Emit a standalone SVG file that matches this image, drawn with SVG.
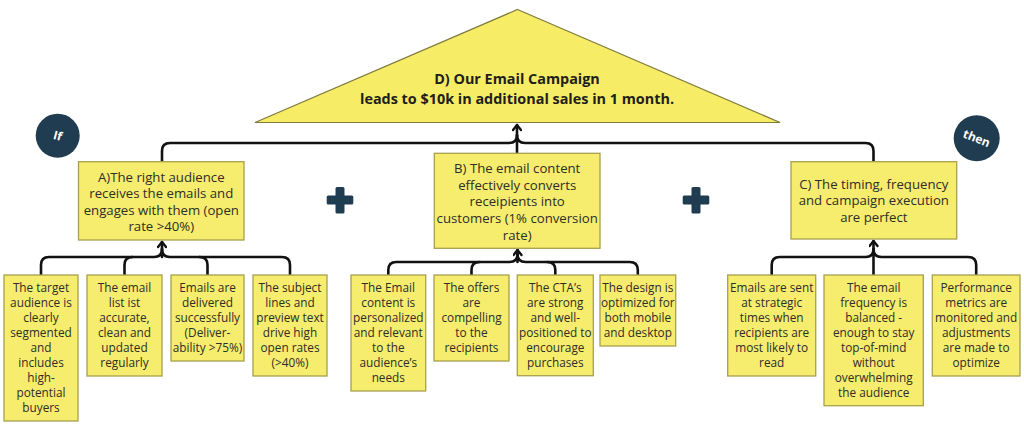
<svg xmlns="http://www.w3.org/2000/svg" width="1024" height="434" viewBox="0 0 1024 434">
<defs>
<style>
.box{fill:#f6ec6e;stroke:#a7a04e;stroke-width:1.3}
.t{font-family:"Open Sans","Liberation Sans",sans-serif;font-size:13.2px;fill:#2e2e28;text-anchor:middle}
.s{font-family:"Open Sans","Liberation Sans",sans-serif;font-size:11.8px;fill:#2e2e28;text-anchor:middle}
.h{font-family:"Open Sans","Liberation Sans",sans-serif;font-size:14.4px;font-weight:700;fill:#1e1e1a;text-anchor:middle}
.c{fill:none;stroke:#111;stroke-width:2.6;stroke-linecap:round;stroke-linejoin:round}
.navy{fill:#1f3c50}
.w{font-family:"Open Sans","Liberation Sans",sans-serif;font-size:12px;font-weight:700;fill:#fff;text-anchor:middle}
</style>
<marker id="ah" viewBox="0 0 10 10" refX="7.5" refY="5" markerWidth="10" markerHeight="10" markerUnits="userSpaceOnUse" orient="auto">
<path d="M2.5,1 L7.5,5 L2.5,9" fill="none" stroke="#111" stroke-width="2.4" stroke-linecap="round" stroke-linejoin="round"/>
</marker>
</defs>
<rect width="1024" height="434" fill="#fff"/>

<g id="connectors">
<path class="c" d="M162,162 V151 Q162,143 170,143 H509 Q517,143 517,135"/>
<path class="c" d="M873.5,162 V151 Q873.5,143 865.5,143 H525 Q517,143 517,135"/>
<path class="c" d="M517,153 V125" marker-end="url(#ah)"/>

<path class="c" d="M41,275 V265 Q41,257 49,257 H154 Q162,257 162,249"/>
<path class="c" d="M290,275 V265 Q290,257 282,257 H170 Q162,257 162,249"/>
<path class="c" d="M124.5,275 V265 Q124.5,257 132.5,257"/>
<path class="c" d="M207.5,275 V265 Q207.5,257 199.5,257"/>
<path class="c" d="M162,257 V242" marker-end="url(#ah)"/>

<path class="c" d="M388.3,275 V270 Q388.3,262 396.3,262 H509.5 Q517.5,262 517.5,254"/>
<path class="c" d="M637.8,275 V270 Q637.8,262 629.8,262 H525.5 Q517.5,262 517.5,254"/>
<path class="c" d="M471.5,275 V270 Q471.5,262 479.5,262"/>
<path class="c" d="M555.3,275 V270 Q555.3,262 547.3,262"/>
<path class="c" d="M517.5,262 V250" marker-end="url(#ah)"/>

<path class="c" d="M771.7,275 V265 Q771.7,257 779.7,257 H865.5 Q873.5,257 873.5,249"/>
<path class="c" d="M976.2,275 V265 Q976.2,257 968.2,257 H881.5 Q873.5,257 873.5,249"/>
<path class="c" d="M873.5,275 V241" marker-end="url(#ah)"/>
</g>

<g id="D">
<polygon points="517.5,9.5 780,122.5 255,122.5" fill="#f6ec66" stroke="#7f7a3e" stroke-width="1.2"/>
<text class="h" x="517" y="84">D) Our Email Campaign</text>
<text class="h" x="517" y="104">leads to $10k in additional sales in 1 month.</text>
</g>

<g id="if">
<circle class="navy" cx="57.7" cy="135.7" r="22"/>
<text class="w" x="57.7" y="140" transform="rotate(15 57.7 135.7)">If</text>
</g>
<g id="then">
<circle class="navy" cx="976.7" cy="138.3" r="23"/>
<text class="w" x="976.7" y="142.5" transform="rotate(22 976.7 138.3)">then</text>
</g>

<g id="plus1"><rect class="navy" x="326.7" y="195.5" width="26.6" height="9" rx="1.5"/><rect class="navy" x="335.5" y="187" width="9" height="26.6" rx="1.5"/></g>
<g id="plus2"><rect class="navy" x="682.7" y="195.5" width="26.6" height="9" rx="1.5"/><rect class="navy" x="691.5" y="187" width="9" height="26.6" rx="1.5"/></g>

<g id="A">
<rect class="box" x="78.5" y="161.7" width="165.5" height="78.3"/>
<text class="t" x="161.3" y="181.7">A)The right audience</text>
<text class="t" x="161.3" y="198.2">receives the emails and</text>
<text class="t" x="161.3" y="214.7">engages with them (open</text>
<text class="t" x="161.3" y="231.2">rate &gt;40%)</text>
</g>

<g id="B">
<rect class="box" x="434.3" y="153.3" width="165.7" height="95"/>
<text class="t" x="517.2" y="173">B) The email content</text>
<text class="t" x="517.2" y="189.7">effectively converts</text>
<text class="t" x="517.2" y="206.4">receipients into</text>
<text class="t" x="517.2" y="223">customers (1% conversion</text>
<text class="t" x="517.2" y="239.7">rate)</text>
</g>

<g id="C">
<rect class="box" x="791" y="161.7" width="165.7" height="77.3"/>
<text class="t" x="873.8" y="188.7">C) The timing, frequency</text>
<text class="t" x="873.8" y="205.4">and campaign execution</text>
<text class="t" x="873.8" y="222">are perfect</text>
</g>

<g id="A1">
<rect class="box" x="4" y="275" width="74" height="146"/>
<text class="s"><tspan x="41" y="292">The target</tspan><tspan x="41" y="307">audience is</tspan><tspan x="41" y="322">clearly</tspan><tspan x="41" y="337">segmented</tspan><tspan x="41" y="352">and</tspan><tspan x="41" y="367">includes</tspan><tspan x="41" y="382">high-</tspan><tspan x="41" y="397">potential</tspan><tspan x="41" y="412">buyers</tspan></text>
</g>
<g id="A2">
<rect class="box" x="87" y="275" width="75" height="101"/>
<text class="s"><tspan x="124.5" y="292">The email</tspan><tspan x="124.5" y="307">list ist</tspan><tspan x="124.5" y="322">accurate,</tspan><tspan x="124.5" y="337">clean and</tspan><tspan x="124.5" y="352">updated</tspan><tspan x="124.5" y="367">regularly</tspan></text>
</g>
<g id="A3">
<rect class="box" x="171" y="275" width="73" height="86"/>
<text class="s"><tspan x="207.5" y="292">Emails are</tspan><tspan x="207.5" y="307">delivered</tspan><tspan x="207.5" y="322">successfully</tspan><tspan x="207.5" y="337">(Deliver-</tspan><tspan x="207.5" y="352">ability &gt;75%)</tspan></text>
</g>
<g id="A4">
<rect class="box" x="253" y="275" width="74" height="101"/>
<text class="s"><tspan x="290" y="292">The subject</tspan><tspan x="290" y="307">lines and</tspan><tspan x="290" y="322">preview text</tspan><tspan x="290" y="337">drive high</tspan><tspan x="290" y="352">open rates</tspan><tspan x="290" y="367">(&gt;40%)</tspan></text>
</g>

<g id="B1">
<rect class="box" x="351" y="275" width="74.7" height="116"/>
<text class="s"><tspan x="388.3" y="292">The Email</tspan><tspan x="388.3" y="307">content is</tspan><tspan x="388.3" y="322">personalized</tspan><tspan x="388.3" y="337">and relevant</tspan><tspan x="388.3" y="352">to the</tspan><tspan x="388.3" y="367">audience’s</tspan><tspan x="388.3" y="382">needs</tspan></text>
</g>
<g id="B2">
<rect class="box" x="434" y="275" width="75" height="86"/>
<text class="s"><tspan x="471.5" y="292">The offers</tspan><tspan x="471.5" y="307">are</tspan><tspan x="471.5" y="322">compelling</tspan><tspan x="471.5" y="337">to the</tspan><tspan x="471.5" y="352">recipients</tspan></text>
</g>
<g id="B3">
<rect class="box" x="517.3" y="275" width="76" height="100.7"/>
<text class="s"><tspan x="555.3" y="292">The CTA’s</tspan><tspan x="555.3" y="307">are strong</tspan><tspan x="555.3" y="322">and well-</tspan><tspan x="555.3" y="337">positioned to</tspan><tspan x="555.3" y="352">encourage</tspan><tspan x="555.3" y="367">purchases</tspan></text>
</g>
<g id="B4">
<rect class="box" x="600" y="275" width="75.7" height="71"/>
<text class="s"><tspan x="637.8" y="292">The design is</tspan><tspan x="637.8" y="307">optimized for</tspan><tspan x="637.8" y="322">both mobile</tspan><tspan x="637.8" y="337">and desktop</tspan></text>
</g>

<g id="C1">
<rect class="box" x="727.7" y="275" width="88" height="101"/>
<text class="s"><tspan x="771.7" y="292">Emails are sent</tspan><tspan x="771.7" y="307">at strategic</tspan><tspan x="771.7" y="322">times when</tspan><tspan x="771.7" y="337">recipients are</tspan><tspan x="771.7" y="352">most likely to</tspan><tspan x="771.7" y="367">read</tspan></text>
</g>
<g id="C2">
<rect class="box" x="824" y="275" width="99.3" height="130.7"/>
<text class="s"><tspan x="873.7" y="292">The email</tspan><tspan x="873.7" y="307">frequency is</tspan><tspan x="873.7" y="322">balanced -</tspan><tspan x="873.7" y="337">enough to stay</tspan><tspan x="873.7" y="352">top-of-mind</tspan><tspan x="873.7" y="367">without</tspan><tspan x="873.7" y="382">overwhelming</tspan><tspan x="873.7" y="397">the audience</tspan></text>
</g>
<g id="C3">
<rect class="box" x="932.3" y="275" width="87.7" height="101"/>
<text class="s"><tspan x="976.2" y="292">Performance</tspan><tspan x="976.2" y="307">metrics are</tspan><tspan x="976.2" y="322">monitored and</tspan><tspan x="976.2" y="337">adjustments</tspan><tspan x="976.2" y="352">are made to</tspan><tspan x="976.2" y="367">optimize</tspan></text>
</g>
</svg>
